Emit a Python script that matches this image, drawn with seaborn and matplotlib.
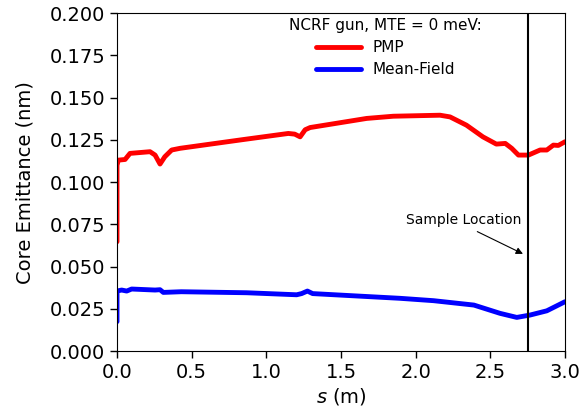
import matplotlib
matplotlib.use("Agg")
import matplotlib.pyplot as plt
import seaborn as sns
import pandas as pd

# PMP (red) series
pmp_s = [0.0, 0.0, 0.009, 0.054, 0.087, 0.221, 0.255, 0.288, 0.32, 0.366, 0.422,
         0.846, 1.147, 1.19, 1.226, 1.26, 1.293, 1.672, 1.85, 2.163, 2.23, 2.34,
         2.45, 2.54, 2.6, 2.643, 2.688, 2.755, 2.833, 2.878, 2.922, 2.955, 3.0]
pmp_e = [0.0647, 0.110, 0.113, 0.1134, 0.117, 0.118, 0.116, 0.1107, 0.115, 0.119, 0.120,
         0.1252, 0.1288, 0.1284, 0.1268, 0.131, 0.1323, 0.1377, 0.139, 0.1396, 0.1386, 0.1337,
         0.1268, 0.1225, 0.1229, 0.120, 0.116, 0.116, 0.119, 0.119, 0.1219, 0.1217, 0.1239]

# Mean-Field (blue) series
mf_s = [0.0, 0.0, 0.031, 0.065, 0.098, 0.255, 0.288, 0.31, 0.43, 0.868, 1.203, 1.236,
        1.275, 1.31, 1.896, 2.12, 2.39, 2.565, 2.677, 2.766, 2.878, 3.0]
mf_e = [0.0174, 0.0355, 0.0361, 0.0355, 0.0367, 0.0361, 0.0363, 0.0347, 0.0351, 0.0345,
        0.0333, 0.034, 0.0355, 0.034, 0.0312, 0.0298, 0.0272, 0.0223, 0.0199, 0.0213,
        0.0238, 0.0292]

series_names = ["PMP", "Mean-Field"]
series_colors = ["#ff0000", "#0000ff"]
sample_location = 2.75
x_ticks = [0.0, 0.5, 1.0, 1.5, 2.0, 2.5, 3.0]
y_ticks = [0.0, 0.025, 0.05, 0.075, 0.1, 0.125, 0.15, 0.175, 0.2]

df = pd.concat([
    pd.DataFrame({"s": pmp_s, "e": pmp_e, "series": series_names[0]}),
    pd.DataFrame({"s": mf_s, "e": mf_e, "series": series_names[1]}),
], ignore_index=True)

sns.set_style("ticks")
plt.rcParams["font.family"] = ["DejaVu Sans"]
for k in ["text.color", "axes.labelcolor", "xtick.color", "ytick.color", "axes.edgecolor"]:
    plt.rcParams[k] = "black"

fig, ax = plt.subplots(figsize=(5.81, 4.12), dpi=100)
for name, color in zip(series_names, series_colors):
    sub = df[df.series == name]
    sns.lineplot(x=sub["s"].values, y=sub["e"].values, sort=False, estimator=None,
                 color=color, linewidth=3.5, ax=ax, label=name)

ax.axvline(sample_location, color="black", linewidth=1.5)
ax.annotate("Sample Location", xy=(sample_location - 0.015, 0.0568), xytext=(2.32, 0.0775),
            ha="center", va="center", fontsize=10,
            arrowprops=dict(arrowstyle="-|>", color="black", lw=0.8, mutation_scale=10,
                            relpos=(0.54, 0.0)))

ax.set_xlim(0, 3.0)
ax.set_ylim(0, 0.2)
ax.set_xticks(x_ticks)
ax.set_yticks(y_ticks)
ax.set_yticklabels([f"{v:.3f}" for v in y_ticks])
ax.set_xticklabels([f"{v:.1f}" for v in x_ticks])
ax.tick_params(labelsize=14, width=1, length=5)
ax.set_xlabel("$s$ (m)", fontsize=14, labelpad=3)
ax.set_ylabel("Core Emittance (nm)", fontsize=14, labelpad=11)
for sp in ax.spines.values():
    sp.set_visible(True)
    sp.set_color("black")

leg = ax.legend(title="NCRF gun, MTE = 0 meV:", frameon=False, fontsize=11,
                title_fontsize=11, loc="upper center", bbox_to_anchor=(0.60, 1.025),
                labelspacing=0.45, handlelength=2.9)
fig.subplots_adjust(left=0.2014, right=0.9725, top=0.968, bottom=0.148)
fig.savefig("out.png", dpi=100)
